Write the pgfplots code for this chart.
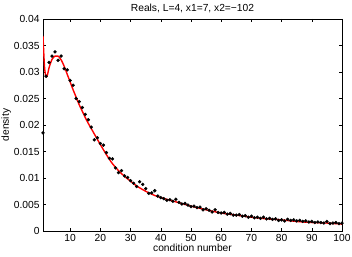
\documentclass[border=0pt]{standalone}
\usepackage{fontspec}
\setmainfont{Liberation Sans}
\usepackage{pgfplots}
\pgfplotsset{compat=1.18}
\begin{document}
\begin{tikzpicture}
\begin{axis}[
  scale only axis,
  width=299bp, height=212bp,
  xmin=1, xmax=100, ymin=0, ymax=0.04,
  xtick={10,20,...,100},
  ytick={0,0.005,0.01,0.015,0.02,0.025,0.03,0.035,0.04},
  yticklabels={0,0.005,0.01,0.015,0.02,0.025,0.03,0.035,0.04},
  scaled y ticks=false,
  /pgf/number format/assume math mode=true,
  tick align=inside,
  major tick length=3bp,
  tick style={black, line width=0.4pt},
  axis line style={black, line width=0.5pt},
  ticklabel style={font=\fontsize{10.3}{12}\selectfont},
  label style={font=\fontsize{10.3}{12}\selectfont},
  title style={font=\fontsize{10.3}{12}\selectfont, yshift=-3bp},
  title={Reals, L=4, x1=7, x2=−102},
  xlabel={condition number},
  ylabel={density},
  xlabel style={yshift=5bp},
  ylabel style={yshift=-4bp},
]
\addplot[only marks, mark=*, mark size=1.5pt, black] coordinates {
(1,0.0185)(2,0.0292)(3,0.0318)(4,0.0330)(5,0.0338)(6,0.0322)(7,0.0330)(8,0.0306)(9,0.0304)(10,0.0284)
(11,0.0275)(12,0.0250)(13,0.0244)(14,0.0233)(15,0.0220)(16,0.0210)(17,0.0196)(18,0.0172)(19,0.0176)(20,0.0165)
(21,0.0162)(22,0.0148)(23,0.0137)(24,0.0136)(25,0.0119)(26,0.0110)(27,0.0114)(28,0.0104)(29,0.0101)(30,0.0095)
(31,0.0090)(32,0.0084)(33,0.0093)(34,0.0088)(35,0.0080)(36,0.0071)(37,0.0072)(38,0.0076)(39,0.0066)(40,0.0063)
(41,0.0061)(42,0.0058)(43,0.0059)(44,0.0056)(45,0.0060)(46,0.0054)(47,0.0051)(48,0.0052)(49,0.0049)(50,0.0046)
(51,0.0047)(52,0.0044)(53,0.0045)(54,0.0040)(55,0.0042)(56,0.0039)(57,0.0036)(58,0.0040)(59,0.0035)(60,0.0034)
(61,0.0035)(62,0.0032)(63,0.0033)(64,0.0030)(65,0.0030)(66,0.0031)(67,0.0028)(68,0.0029)(69,0.0026)(70,0.0028)
(71,0.0025)(72,0.0026)(73,0.0024)(74,0.0026)(75,0.0023)(76,0.0024)(77,0.0022)(78,0.0023)(79,0.0020)(80,0.0021)
(81,0.0019)(82,0.0022)(83,0.0020)(84,0.0021)(85,0.0019)(86,0.0020)(87,0.0018)(88,0.0019)(89,0.0017)(90,0.0018)
(91,0.0016)(92,0.0017)(93,0.0016)(94,0.0015)(95,0.0018)(96,0.0014)(97,0.0015)(98,0.0016)(99,0.0014)(100,0.0015)
};
\addplot[red, line width=1.4pt, smooth] coordinates {
(1,0.0368)(1.5,0.0310)(2,0.0291)(2.5,0.0295)(3,0.0308)(4,0.0324)(5,0.0330)(6,0.0330)(7,0.0323)(8,0.0311)
(9,0.0296)(10,0.0281)(11,0.0266)(12,0.0252)(13,0.0238)(14,0.0226)(15,0.0214)(16,0.0203)(17,0.0193)(18,0.0183)
(19,0.0173)(20,0.0163)(22,0.0144)(24,0.0127)(26,0.0114)(28,0.0103)(30,0.0094)(32,0.0085)(35,0.0075)(38,0.0067)
(40,0.0063)(45,0.0055)(50,0.0047)(55,0.0040)(60,0.0034)(65,0.0030)(70,0.0026)(75,0.0023)(80,0.0021)(85,0.0018)
(90,0.0016)(95,0.0015)(100,0.0013)
};
\end{axis}
\pgfresetboundingbox
\path ([xshift=-43bp,yshift=-25bp]current axis.south west) rectangle ([xshift=10bp,yshift=19bp]current axis.north east);
\end{tikzpicture}
\end{document}
